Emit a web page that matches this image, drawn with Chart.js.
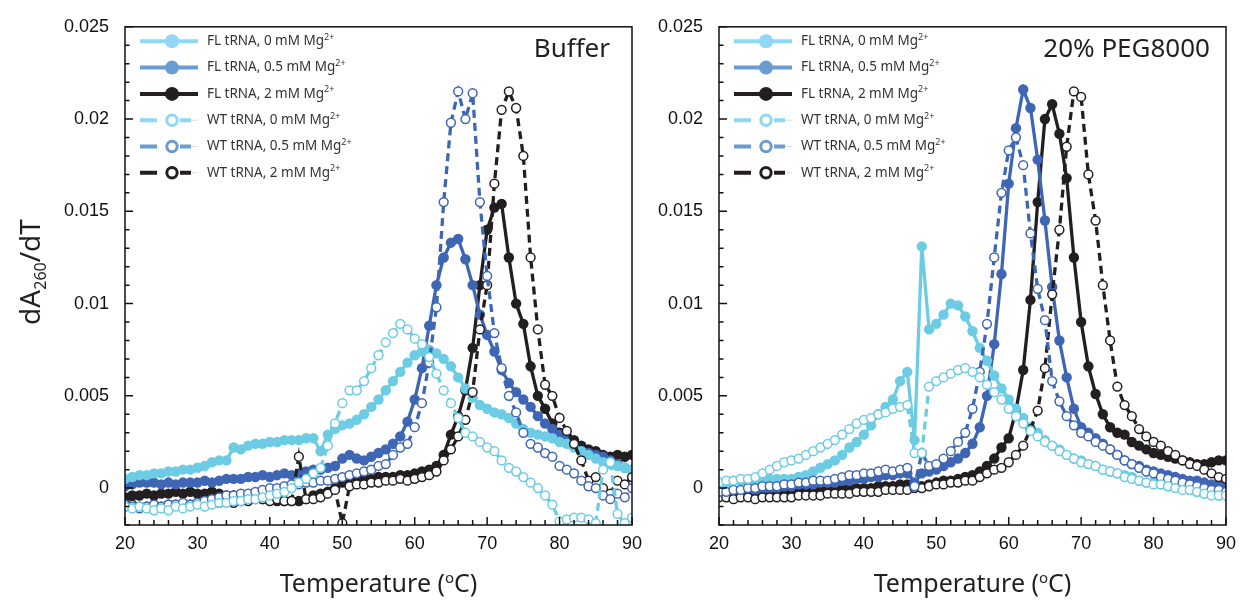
<!DOCTYPE html>
<html>
<head>
<meta charset="utf-8">
<script src="https://cdn.jsdelivr.net/npm/chart.js@4/dist/chart.umd.min.js"></script>
<style>
  body { margin: 0; background: #fff; }
  #wrap { position: relative; width: 1244px; height: 604px; overflow: hidden; }
  canvas { position: absolute; top: 0; }
</style>
</head>
<body>
<div id="wrap">
  <canvas id="bufferChart" width="664" height="604" style="left:0"></canvas>
  <canvas id="pegChart" width="604" height="604" style="left:640px"></canvas>
</div>
<script>
// temperature (°C) and dA260/dT values in units of 0.001
const temps = [20, 21, 22, 23, 24, 25, 26, 27, 28, 29, 30, 31, 32, 33, 34, 35, 36, 37, 38, 39,
  40, 41, 42, 43, 44, 45, 46, 47, 48, 49, 50, 51, 52, 53, 54, 55, 56, 57, 58, 59,
  60, 61, 62, 63, 64, 65, 66, 67, 68, 69, 70, 71, 72, 73, 74, 75, 76, 77, 78, 79,
  80, 81, 82, 83, 84, 85, 86, 87, 88, 89, 90];

// Buffer panel
const bufFL0 = [0.5, 0.6, 0.7, 0.7, 0.8, 0.8, 0.9, 0.9, 1.0, 1.0,
  1.1, 1.2, 1.4, 1.5, 1.5, 2.2, 2.1, 2.3, 2.4, 2.4,
  2.5, 2.5, 2.6, 2.6, 2.6, 2.7, 2.7, 2.0, 2.9, 3.2,
  3.4, 3.5, 3.7, 4.0, 4.4, 4.8, 5.3, 5.8, 6.3, 6.8,
  7.2, 7.4, 7.5, 7.3, 7.0, 6.6, 6.0, 5.4, 4.9, 4.5,
  4.3, 4.1, 4.0, 3.8, 3.5, 3.2, 3.0, 2.9, 2.8, 2.7,
  2.5, 2.4, 2.2, 2.0, 1.8, 1.6, 1.4, 1.3, 1.2, 1.1, 1.0];
const bufFL05 = [0.1, 0.2, 0.3, 0.3, 0.3, 0.2, 0.3, 0.2, 0.3, 0.3,
  0.3, 0.4, 0.3, 0.4, 0.5, 0.5, 0.5, 0.6, 0.6, 0.7,
  0.6, 0.7, 0.8, 0.7, 0.8, 0.9, 1.0, 1.0, 1.1, 1.2,
  1.6, 1.8, 1.6, 1.5, 1.7, 1.9, 2.1, 2.4, 2.8, 3.6,
  4.8, 6.5, 8.8, 11.0, 12.5, 13.3, 13.5, 12.4, 11.0, 9.4,
  8.3, 7.4, 6.4, 5.7, 5.2, 4.8, 4.4, 3.9, 3.5, 3.2,
  2.9, 2.6, 2.3, 2.0, 1.9, 1.8, 1.7, 1.5, 1.3, 1.1, 1.0];
const bufFL2 = [-0.5, -0.4, -0.4, -0.3, -0.4, -0.3, -0.3, -0.2, -0.3, -0.2,
  -0.3, -0.3, -0.2, -0.3, -0.4, -0.4, -0.5, -0.5, -0.5, -0.6,
  -0.6, -0.7, -0.7, -0.7, -0.7, -0.6, -0.4, -0.3, -0.2, 0.0,
  0.3, 0.6, 0.5, 0.5, 0.5, 0.6, 0.6, 0.6, 0.7, 0.7,
  0.8, 0.9, 1.0, 1.2, 1.8, 2.9, 3.9, 5.3, 7.6, 11.0,
  14.0, 15.2, 15.4, 12.5, 10.0, 8.9, 6.6, 5.0, 4.3, 3.5,
  3.0, 2.8, 2.6, 2.3, 2.1, 2.0, 1.8, 1.7, 1.8, 1.7, 1.8];
const bufWT0 = [-1.0, -1.1, -1.0, -1.1, -1.2, -1.1, -1.2, -1.0, -1.1, -1.0,
  -0.9, -1.0, -0.9, -0.8, -0.8, -0.7, -0.7, -0.6, -0.6, -0.5,
  -0.4, -0.3, -0.2, 0.0, 0.3, 0.5, 0.8, 1.1, 2.3, 3.5,
  4.6, 5.3, 5.3, 5.8, 6.5, 7.2, 7.9, 8.4, 8.9, 8.6,
  8.1, 7.8, 7.1, 6.2, 5.3, 4.6, 3.8, 3.0, 2.8, 2.5,
  2.2, 2.0, 1.5, 1.1, 0.9, 0.6, 0.3, 0.0, -0.4, -0.9,
  -1.8, -1.7, -1.6, -1.6, -1.7, -1.9, 1.0, 1.4, -1.4, -1.9, -1.6];
const bufWT05 = [-0.9, -1.0, -1.1, -1.0, -0.9, -1.0, -0.9, -0.9, -0.8, -0.9,
  -0.8, -0.7, -0.6, -0.5, -0.4, -0.4, -0.3, -0.3, -0.2, -0.1,
  0.0, 0.0, 0.1, 0.2, 0.2, 0.3, 0.3, 0.4, 0.4, 0.5,
  0.6, 0.7, 0.8, 0.9, 1.0, 1.2, 1.3, 1.8, 2.2, 2.4,
  3.3, 4.6, 6.8, 9.8, 15.5, 19.8, 21.5, 20.0, 21.4, 15.5,
  11.5, 8.4, 6.5, 5.0, 4.1, 3.0, 2.4, 2.2, 1.9, 1.7,
  1.2, 1.0, 0.8, 0.4, 0.1, 0.0, -0.4, -0.6, -0.3, -0.5, 0.0];
const bufWT2 = [-1.0, -0.9, -1.0, -1.0, -0.9, -1.0, -0.9, -0.9, -1.0, -0.9,
  -0.8, -0.9, -0.8, -0.8, -0.7, -0.8, -0.7, -0.7, -0.6, -0.6,
  -0.7, -0.6, -0.7, -0.7, 1.7, -0.6, -0.6, -0.5, -0.3, -0.1,
  -1.9, 0.1, 0.2, 0.2, 0.3, 0.3, 0.4, 0.4, 0.5, 0.4,
  0.5, 0.6, 0.7, 0.9, 1.5, 2.1, 2.8, 3.7, 5.2, 8.6,
  11.0, 16.5, 20.5, 21.5, 20.6, 18.0, 12.5, 8.6, 5.6, 5.0,
  3.8, 3.1, 2.4, 1.5, 0.4, 0.6, 0.0, -0.3, 0.4, 0.2, 0.6];

// 20% PEG8000 panel
const pegFL0 = [0.3, 0.3, 0.4, 0.4, 0.4, 0.4, 0.4, 0.5, 0.5, 0.5,
  0.5, 0.6, 0.7, 0.9, 1.1, 1.3, 1.5, 1.8, 2.2, 2.5,
  2.9, 3.4, 4.0, 4.4, 4.8, 5.8, 6.3, 2.6, 13.1, 8.6,
  8.9, 9.4, 10.0, 9.9, 9.3, 8.5, 7.6, 6.9, 6.1, 5.4,
  4.8, 4.3, 3.8, 3.3, 3.0, 2.6, 2.3, 2.1, 1.8, 1.6,
  1.5, 1.3, 1.2, 1.0, 0.9, 0.8, 0.7, 0.6, 0.4, 0.3,
  0.3, 0.2, 0.1, 0.1, 0.0, -0.1, -0.2, -0.3, -0.3, -0.4, -0.3];
const pegFL05 = [-0.3, -0.3, -0.2, -0.2, -0.2, -0.1, -0.1, 0.0, 0.0, 0.1,
  0.1, 0.2, 0.2, 0.2, 0.3, 0.3, 0.3, 0.4, 0.4, 0.5,
  0.5, 0.6, 0.6, 0.7, 0.7, 0.8, 0.8, 0.3, 0.8, 0.9,
  1.0, 1.2, 1.4, 1.6, 1.9, 2.4, 3.3, 5.0, 7.8, 11.6,
  16.5, 19.5, 21.6, 20.6, 17.8, 14.5, 10.9, 8.0, 6.0, 4.3,
  3.3, 3.0, 2.7, 2.4, 2.1, 1.8, 1.5, 1.3, 1.2, 1.0,
  0.9, 0.8, 0.7, 0.6, 0.5, 0.4, 0.4, 0.3, 0.2, 0.2, 0.2];
const pegFL2 = [-0.4, -0.4, -0.3, -0.4, -0.3, -0.3, -0.3, -0.2, -0.3, -0.2,
  -0.2, -0.2, -0.2, -0.1, -0.1, -0.1, -0.1, 0.0, 0.0, 0.0,
  0.0, 0.0, 0.1, 0.1, 0.1, 0.2, 0.2, 0.1, 0.1, 0.2,
  0.3, 0.4, 0.4, 0.5, 0.6, 0.7, 0.9, 1.2, 1.6, 2.2,
  2.7, 4.2, 6.4, 10.2, 15.5, 20.0, 20.8, 19.2, 16.8, 12.5,
  9.0, 6.6, 5.1, 4.0, 3.3, 3.0, 2.9, 2.5, 2.3, 2.1,
  1.9, 1.8, 1.7, 1.6, 1.5, 1.4, 1.3, 1.3, 1.4, 1.5, 1.5];
const pegWT0 = [0.3, 0.4, 0.4, 0.5, 0.5, 0.6, 0.8, 1.0, 1.2, 1.4,
  1.5, 1.6, 1.8, 2.0, 2.2, 2.4, 2.6, 2.9, 3.2, 3.5,
  3.7, 3.8, 4.0, 4.1, 4.3, 4.4, 4.5, 1.9, 1.9, 5.5,
  5.8, 6.0, 6.2, 6.4, 6.5, 6.3, 6.0, 5.6, 5.2, 4.8,
  4.3, 3.9, 3.5, 3.1, 2.8, 2.5, 2.3, 2.0, 1.8, 1.6,
  1.4, 1.3, 1.2, 1.0, 0.9, 0.8, 0.6, 0.5, 0.4, 0.3,
  0.2, 0.2, 0.1, 0.0, -0.1, -0.1, -0.2, -0.3, -0.4, -0.4, -0.4];
const pegWT05 = [-0.2, -0.2, -0.1, -0.1, 0.0, 0.0, 0.1, 0.1, 0.1, 0.2,
  0.2, 0.3, 0.3, 0.4, 0.4, 0.4, 0.5, 0.6, 0.7, 0.7,
  0.8, 0.8, 0.9, 1.0, 0.9, 1.0, 1.1, 0.1, 1.9, 1.2,
  1.3, 1.6, 2.0, 2.5, 3.0, 4.3, 6.3, 8.9, 12.5, 16.0,
  18.3, 19.0, 17.5, 13.8, 10.8, 9.1, 5.8, 4.7, 3.9, 3.4,
  3.0, 2.8, 2.5, 2.3, 2.1, 1.8, 1.5, 1.3, 1.1, 0.9,
  0.8, 0.6, 0.5, 0.4, 0.3, 0.2, 0.1, 0.0, -0.1, -0.1, -0.2];
const pegWT2 = [-0.5, -0.5, -0.6, -0.5, -0.5, -0.6, -0.5, -0.5, -0.5, -0.5,
  -0.5, -0.4, -0.4, -0.4, -0.4, -0.3, -0.3, -0.3, -0.3, -0.2,
  -0.2, -0.2, -0.2, -0.1, -0.1, -0.1, -0.1, 0.0, 0.0, 0.1,
  0.2, 0.2, 0.3, 0.3, 0.4, 0.4, 0.6, 0.8, 1.0, 1.1,
  1.4, 1.8, 2.3, 3.2, 4.2, 6.5, 10.5, 14.0, 18.5, 21.5,
  21.2, 17.0, 14.5, 11.0, 8.0, 5.5, 4.5, 3.9, 3.2, 2.8,
  2.5, 2.3, 2.0, 1.8, 1.5, 1.3, 1.2, 1.0, 0.8, 0.6, 0.5];

const seriesNames = ["FL tRNA, 0 mM Mg", "FL tRNA, 0.5 mM Mg", "FL tRNA, 2 mM Mg",
  "WT tRNA, 0 mM Mg", "WT tRNA, 0.5 mM Mg", "WT tRNA, 2 mM Mg"];
const seriesColors = ["#6CCCE3", "#3F66B4", "#231F20", "#6CCCE3", "#3F66B4", "#231F20"];
const legendColors = ["#8ED8F4", "#6A9BD1", "#231F20", "#8ED8F4", "#6A9BD1", "#231F20"];

const fontTick = '"Liberation Sans", Arial, sans-serif';
const fontText = '"Noto Sans", "Open Sans", sans-serif';

function buildDatasets(seriesValues) {
  return seriesValues.map((vals, i) => {
    const open = i >= 3;
    return {
      label: seriesNames[i],
      data: temps.map((t, k) => ({ x: t, y: vals[k] })),
      borderColor: seriesColors[i],
      borderWidth: 3.3,
      borderDash: open ? [8, 5] : [],
      pointRadius: open ? 4.4 : 5.2,
      pointBackgroundColor: open ? "#fff" : seriesColors[i],
      pointBorderColor: seriesColors[i],
      pointBorderWidth: open ? 1.5 : 0,
      tension: 0,
      order: open ? 1 : 2,
    };
  });
}

// text with a raised or lowered part, e.g. Mg2+ or A260
function drawRich(ctx, parts, x, y) {
  let cx = x;
  parts.forEach(p => {
    ctx.font = p.font;
    ctx.fillText(p.text, cx, y + (p.dy || 0));
    cx += ctx.measureText(p.text).width;
  });
  return cx - x;
}
function richWidth(ctx, parts) {
  let w = 0;
  parts.forEach(p => { ctx.font = p.font; w += ctx.measureText(p.text).width; });
  return w;
}

const panelPlugin = {
  id: "panel",
  afterDatasetsDraw(chart, args, opts) {
    const { ctx, chartArea: a } = chart;
    const xs = chart.scales.x, ys = chart.scales.y;
    ctx.save();

    // frame and inward ticks
    ctx.strokeStyle = "#111";
    ctx.lineWidth = 1.5;
    ctx.setLineDash([]);
    ctx.strokeRect(a.left, a.top, a.right - a.left, a.bottom - a.top);
    ctx.beginPath();
    xs.ticks.forEach(t => {
      const px = xs.getPixelForValue(t.value);
      const len = t.value % 10 === 0 ? 8 : 5;
      ctx.moveTo(px, a.bottom);
      ctx.lineTo(px, a.bottom - len);
    });
    ys.ticks.forEach(t => {
      const py = ys.getPixelForValue(t.value);
      const len = t.value % 5 === 0 ? 8 : 4.5;
      ctx.moveTo(a.left, py);
      ctx.lineTo(a.left + len, py);
    });
    ctx.stroke();

    // panel label
    ctx.fillStyle = "#231F20";
    ctx.font = "26px " + fontText;
    ctx.textAlign = "right";
    ctx.textBaseline = "alphabetic";
    ctx.fillText(opts.title, a.right - opts.titleInset, 57);

    // legend
    ctx.textAlign = "left";
    ctx.textBaseline = "middle";
    const lx = a.left + 15;
    seriesNames.forEach((name, i) => {
      const ry = a.top + 14.5 + i * 26.3;
      const c = legendColors[i];
      const open = i >= 3;
      ctx.strokeStyle = c;
      ctx.lineWidth = 4;
      ctx.beginPath();
      if (open) {
        ctx.moveTo(lx, ry); ctx.lineTo(lx + 17, ry);
        ctx.moveTo(lx + 40, ry); ctx.lineTo(lx + 51, ry);
      } else {
        ctx.moveTo(lx, ry); ctx.lineTo(lx + 58, ry);
      }
      ctx.stroke();
      if (open) {
        ctx.strokeStyle = "#ddd";
        ctx.lineWidth = 1;
        ctx.beginPath(); ctx.moveTo(lx + 51, ry); ctx.lineTo(lx + 58, ry); ctx.stroke();
      }
      ctx.beginPath();
      if (open) {
        ctx.arc(lx + 32, ry, 5.2, 0, Math.PI * 2);
        ctx.fillStyle = "#fff";
        ctx.fill();
        ctx.strokeStyle = c;
        ctx.lineWidth = 3;
        ctx.stroke();
      } else {
        ctx.arc(lx + 32, ry, 7, 0, Math.PI * 2);
        ctx.fillStyle = c;
        ctx.fill();
      }
      ctx.fillStyle = "#333";
      drawRich(ctx, [
        { text: name, font: "13.5px " + fontText },
        { text: "2+", font: "9px " + fontText, dy: -4 },
      ], lx + 67, ry);
    });

    // x axis title
    ctx.fillStyle = "#231F20";
    ctx.textBaseline = "alphabetic";
    const xt = [
      { text: "Temperature (", font: "25px " + fontText },
      { text: "o", font: "15px " + fontText, dy: -9 },
      { text: "C)", font: "25px " + fontText },
    ];
    const xw = richWidth(ctx, xt);
    drawRich(ctx, xt, (a.left + a.right) / 2 - xw / 2, 592);

    // y axis title
    if (opts.yTitle) {
      const yt = [
        { text: "dA", font: "28px " + fontText },
        { text: "260", font: "16px " + fontText, dy: 6 },
        { text: "/dT", font: "28px " + fontText },
      ];
      const yw = richWidth(ctx, yt);
      ctx.translate(40, 272);
      ctx.rotate(-Math.PI / 2);
      drawRich(ctx, yt, -yw / 2, 0);
    }
    ctx.restore();
  },
};

function makeChart(id, seriesValues, title, titleInset, yAxisWidth, padRight, yTitle) {
  return new Chart(document.getElementById(id), {
    type: "line",
    data: { datasets: buildDatasets(seriesValues) },
    options: {
      responsive: false,
      animation: false,
      layout: { padding: { left: 0, right: padRight, top: 19, bottom: 0 } },
      plugins: {
        legend: { display: false },
        tooltip: { enabled: false },
        panel: { title: title, titleInset: titleInset, yTitle: yTitle },
      },
      scales: {
        x: {
          type: "linear",
          min: 20,
          max: 90,
          grid: { display: false, drawTicks: false },
          border: { display: false },
          afterFit: s => { s.height = 79; },
          ticks: {
            stepSize: 2,
            maxTicksLimit: 100,
            autoSkip: false,
            maxRotation: 0,
            padding: 8,
            color: "#111",
            font: { family: fontTick, size: 18 },
            callback: v => (v % 10 === 0 ? String(v) : ""),
          },
        },
        y: {
          type: "linear",
          min: -2,
          max: 25,
          grid: { display: false, drawTicks: false },
          border: { display: false },
          afterFit: s => { s.width = yAxisWidth; },
          ticks: {
            stepSize: 1,
            maxTicksLimit: 100,
            autoSkip: false,
            padding: 16,
            color: "#111",
            font: { family: fontTick, size: 18 },
            callback: v => (v % 5 === 0 ? String(+(v / 1000).toFixed(3)) : ""),
          },
        },
      },
    },
    plugins: [panelPlugin],
  });
}

makeChart("bufferChart", [bufFL0, bufFL05, bufFL2, bufWT0, bufWT05, bufWT2], "Buffer", 22, 125, 32, true);
makeChart("pegChart", [pegFL0, pegFL05, pegFL2, pegWT0, pegWT05, pegWT2], "20% PEG8000", 16, 79, 18, false);
</script>
</body>
</html>
